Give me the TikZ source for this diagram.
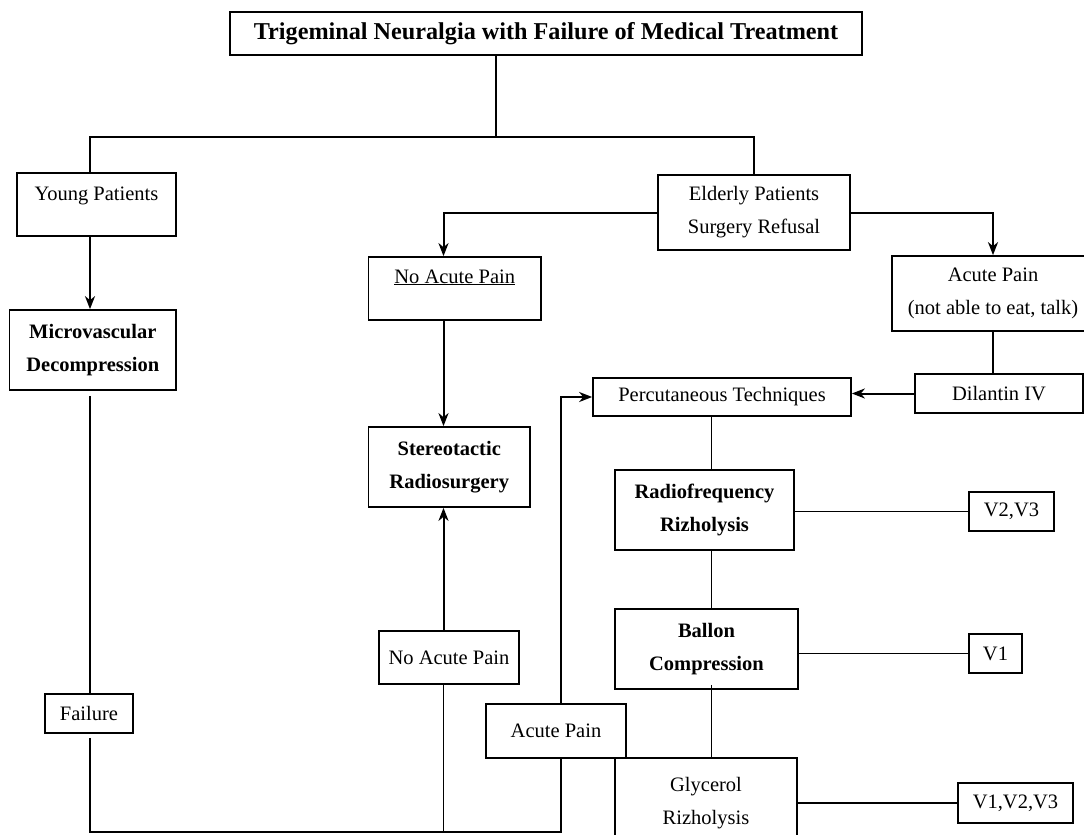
\documentclass[tikz,border=0pt]{standalone}
\usepackage{fontspec}
\setmainfont{Liberation Serif}
\usetikzlibrary{arrows.meta}
\begin{document}
\begin{tikzpicture}[x=1pt,y=-1pt,
  box/.style={draw, line width=1.7pt, inner sep=0pt, align=center, font=\fontsize{20.5}{33}\selectfont},
  bbox/.style={box, font=\fontsize{20.5}{33}\selectfont\bfseries},
  conn/.style={line width=1.4pt},
  arr/.style={line width=2pt, -{Stealth[length=13pt,width=10pt,inset=4pt]}},
]
\useasboundingbox (0,0) rectangle (1084,835);
\clip (0,0) rectangle (1084,835);
\fill[white] (0,0) rectangle (1084,835);

% nodes
\node[bbox, font=\fontsize{24.2}{28}\selectfont\bfseries, minimum width=632pt, minimum height=43pt] (title) at (546,33.5) {Trigeminal Neuralgia with Failure of Medical Treatment};
\node[box, minimum width=159pt, minimum height=63pt, text height=14pt, text depth=22pt] (young) at (96.5,204.5) {Young Patients};
\node[box, minimum width=192pt, minimum height=75pt] (elderly) at (754,212.5) {Elderly Patients\\Surgery Refusal};
\node[box, minimum width=172.5pt, minimum height=63pt, text height=14pt, text depth=25pt] (noacuteA) at (454.75,288.5) {\underline{No Acute Pain}};
\node[box, minimum width=202pt, minimum height=75pt] (acuteA) at (993,293.5) {Acute Pain\\(not able to eat, talk)};
\node[bbox, minimum width=166.4pt, minimum height=80pt] (micro) at (92.8,350) {Microvascular\\Decompression};
\node[bbox, minimum width=161.5pt, minimum height=80pt] (stereo) at (449.25,467) {Stereotactic\\Radiosurgery};
\node[box, minimum width=140pt, minimum height=53pt] (noacuteB) at (449,657.5) {No Acute Pain};
\node[box, minimum width=88pt, minimum height=39pt] (failure) at (89,713.5) {Failure};
\node[box, minimum width=258pt, minimum height=38pt] (percut) at (722,397) {Percutaneous Techniques};
\node[box, minimum width=168pt, minimum height=39pt] (dilantin) at (999,393.5) {Dilantin IV};
\node[bbox, minimum width=179pt, minimum height=80pt] (radio) at (704.5,510) {Radiofrequency\\Rizholysis};
\node[box, minimum width=85pt, minimum height=39pt] (vtwo) at (1011.5,511.5) {V2,V3};
\node[bbox, minimum width=183pt, minimum height=80pt] (ballon) at (706.5,649) {Ballon\\Compression};
\node[box, minimum width=53pt, minimum height=39pt] (vone) at (995.5,653.5) {V1};
\node[box, minimum width=140pt, minimum height=54pt] (acuteB) at (556,731) {Acute Pain};
\node[box, minimum width=182pt, minimum height=90pt] (glycerol) at (706,803) {Glycerol\\Rizholysis};
\node[box, minimum width=115pt, minimum height=40pt] (vall) at (1015.5,803) {V1,V2,V3};

% helper coordinates
\coordinate (tj) at (496,137);
\coordinate (yj) at (90,137);
\coordinate (ej) at (754,137);
\coordinate (cx) at (443.5,0);
\coordinate (vx) at (711.5,0);
\coordinate (bl) at (90,832);
\coordinate (br) at (561,832);

% connectors
\draw[conn] (tj |- title.south) -- (tj);
\draw[conn] (yj |- young.north) -- (yj) -- (ej) -- (elderly.north);
\draw[arr] (elderly.west) -| (cx |- noacuteA.north);
\draw[arr] (elderly.east) -| (acuteA.north);
\draw[arr] (yj |- young.south) -- (yj |- micro.north);
\draw[conn] ([yshift=-5pt]yj |- micro.south) -- (yj |- failure.north);
\draw[conn] ([yshift=-4pt]bl |- failure.south) -- (bl) -- (br) -- (br |- acuteB.south);
\draw[conn] (cx |- noacuteB.south) -- (cx |- bl);
\draw[arr] (cx |- noacuteB.north) -- (cx |- stereo.south);
\draw[arr] (cx |- noacuteA.south) -- (cx |- stereo.north);
\draw[arr] (br |- acuteB.north) |- (percut.west);
\draw[conn] (acuteA.south) -- (acuteA.south |- dilantin.north);
\draw[arr] (dilantin.west) -- (dilantin.west -| percut.east);
\draw[conn] (vx |- percut.south) -- (vx |- radio.north);
\draw[conn] (vx |- radio.south) -- (vx |- ballon.north);
\draw[conn] ([yshift=5pt]vx |- ballon.south) -- (vx |- glycerol.north);
\draw[conn] (vtwo.west) -- (vtwo.west -| radio.east);
\draw[conn] (vone.west) -- (vone.west -| ballon.east);
\draw[conn] (vall.west) -- (vall.west -| glycerol.east);
\end{tikzpicture}
\end{document}
